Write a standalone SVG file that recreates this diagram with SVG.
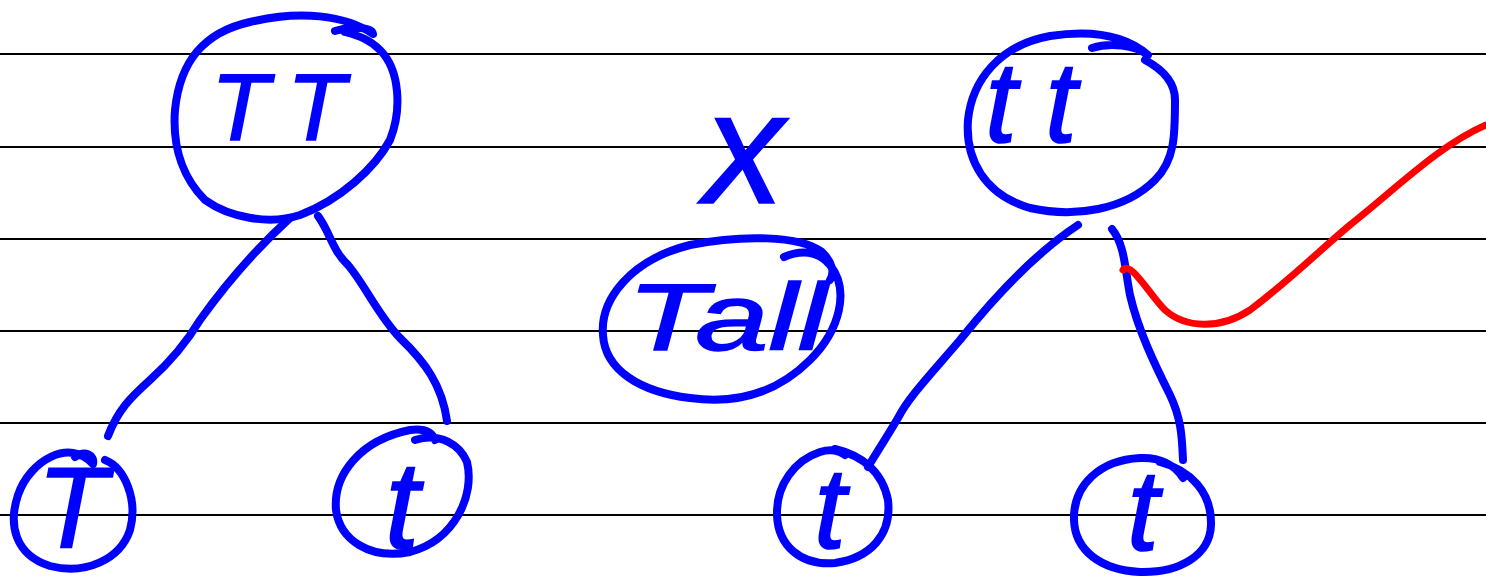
<svg xmlns="http://www.w3.org/2000/svg" width="1486" height="577" viewBox="0 0 1486 577">
<style>
.rule{stroke:#000;stroke-width:2}
.pen{fill:none;stroke:#0000ff;stroke-width:8;stroke-linecap:round;stroke-linejoin:round}
.red{fill:none;stroke:#ff0000;stroke-width:7;stroke-linecap:round;stroke-linejoin:round}
.lbl{font-family:"Liberation Sans",Arial,sans-serif;fill:#0000ff;stroke:#0000ff;stroke-width:1.5;text-anchor:middle;font-style:italic}
</style>
<rect width="1486" height="577" fill="#fff"/>
<g id="rules">
<line class="rule" x1="0" y1="54" x2="1486" y2="54"/>
<line class="rule" x1="0" y1="147" x2="1486" y2="147"/>
<line class="rule" x1="0" y1="239" x2="1486" y2="239"/>
<line class="rule" x1="0" y1="331" x2="1486" y2="331"/>
<line class="rule" x1="0" y1="423" x2="1486" y2="423"/>
<line class="rule" x1="0" y1="515" x2="1486" y2="515"/>
</g>
<g id="connectors">
<path class="pen" d="M290,218 C255,250 225,285 200,320 C185,345 170,362 150,380 C130,398 118,410 108,436"/>
<path class="pen" d="M318,216 C330,232 332,250 348,265 C365,285 378,315 400,338 C425,362 442,385 447,421"/>
<path class="pen" d="M1078,225 C1040,250 1000,290 960,340 C930,375 908,398 898,418 C885,440 875,455 868,467"/>
<path class="pen" d="M1112,229 C1125,245 1125,270 1130,295 C1138,330 1155,365 1170,395 C1182,420 1182,440 1183,460"/>
<path class="red" d="M1123,270 C1130,260 1150,295 1165,310 C1185,328 1220,330 1250,310 C1290,280 1320,250 1350,225 C1400,185 1440,145 1486,125"/>
</g>
<g id="node-TT">
<path class="pen" d="M335,31 C355,25 372,28 373,34 C345,15 300,10 250,22 C205,32 180,60 175,110 C172,150 185,180 205,200 C230,218 270,225 300,215 C340,200 375,168 390,140 C402,110 400,70 380,50 C370,40 360,36 345,32"/>
<text class="lbl" x="287" y="140" font-size="95" letter-spacing="18">TT</text>
</g>
<g id="node-T">
<path class="pen" d="M75,457 C85,450 95,455 93,464 C70,438 30,460 18,495 C8,525 15,555 50,566 C85,575 120,560 130,530 C138,500 125,468 105,460"/>
<text class="lbl" x="72" y="548" font-size="115">T</text>
</g>
<g id="node-t1">
<path class="pen" d="M415,440 C440,432 460,445 467,462 C475,495 455,540 410,552 C370,560 340,540 336,510 C333,475 360,440 410,430 C425,428 432,432 435,440"/>
<text class="lbl" x="402" y="548" font-size="125">t</text>
</g>
<g id="node-x">
<text class="lbl" x="744" y="203" font-size="160" font-style="normal" stroke-width="0">x</text>
</g>
<g id="node-Tall">
<path class="pen" d="M784,257 C800,250 818,250 830,265 C850,290 840,330 810,360 C780,390 740,405 690,398 C640,392 605,370 603,335 C600,300 630,260 690,245 C740,235 800,235 822,252 C832,262 835,272 830,280"/>
<text class="lbl" x="727" y="350" font-size="95" textLength="200" lengthAdjust="spacingAndGlyphs">Tall</text>
</g>
<g id="node-tt">
<path class="pen" d="M1092,48 C1110,42 1135,45 1148,55 C1125,35 1090,30 1050,36 C1000,45 972,80 968,120 C965,160 985,195 1030,208 C1075,218 1125,210 1155,180 C1175,160 1175,135 1175,100 C1175,80 1160,68 1145,60"/>
<text class="lbl" x="1045" y="142" font-size="115" letter-spacing="28">tt</text>
</g>
<g id="node-t2">
<path class="pen" d="M835,449 C860,455 882,470 888,500 C892,535 870,558 835,563 C800,566 778,545 777,515 C776,485 795,460 820,452 C830,449 838,450 845,455"/>
<text class="lbl" x="830" y="548" font-size="115">t</text>
</g>
<g id="node-t3">
<path class="pen" d="M1160,462 C1190,470 1212,492 1211,525 C1210,555 1180,573 1140,572 C1100,570 1075,550 1074,520 C1073,485 1100,460 1140,458 C1160,457 1175,465 1183,478"/>
<text class="lbl" x="1143" y="550" font-size="115">t</text>
</g>
</svg>
